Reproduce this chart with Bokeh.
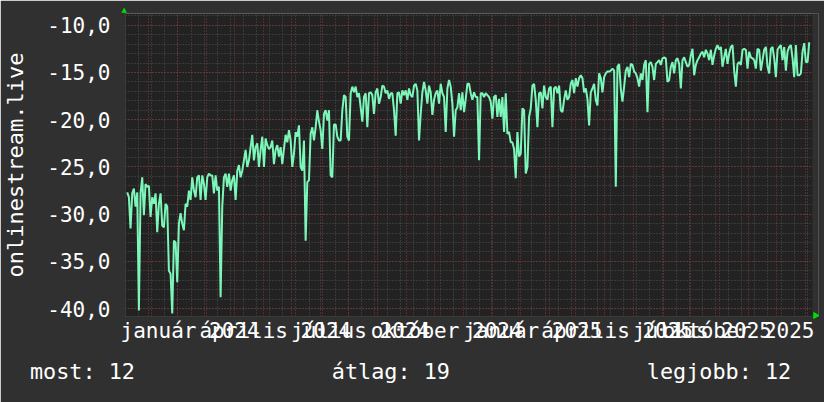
import numpy as np
import pandas as pd
from bokeh.plotting import figure
from bokeh.models import FixedTicker, Range1d, ColumnDataSource, Title, BoxAnnotation
from bokeh.embed import file_html
from bokeh.resources import INLINE

# ---- data ----
values_2023_2024 = [
    -27.7, -28.2, -31.5, -27.8, -27.3, -29.2, -27.7, -40.2, -27.8, -26.1,
    -30.1, -26.8, -27.1, -27.0, -30.3, -28.2, -28.9, -27.8, -31.9, -28.9,
    -27.8, -31.2, -31.4, -28.9, -29.2, -36.0, -36.3, -40.5, -32.8, -33.0,
    -37.2, -31.0, -29.9, -31.0, -31.7, -28.9, -29.2, -27.5, -28.5, -26.1,
    -27.5, -28.2, -26.1, -25.9, -28.5, -25.9, -26.8, -28.5, -26.1, -25.7,
    -25.9, -25.9, -27.8, -25.9, -27.5, -27.1, -38.8, -29.2, -26.1, -25.7,
    -27.1, -25.7, -27.5, -26.4, -25.9, -28.5, -25.4, -24.8, -26.1, -25.4,
    -24.3, -23.2, -25.0, -24.3, -22.9, -21.6, -24.3, -22.9, -22.5, -25.0,
    -23.2, -21.8, -25.0, -22.0, -22.7, -23.1, -22.9, -22.2, -24.7, -23.2,
    -22.7, -23.9, -22.9, -24.7, -23.1, -21.6, -22.4, -21.1, -22.2, -25.0,
    -23.6, -21.3, -21.8, -20.6, -25.0, -25.4, -22.2, -32.8, -26.6, -26.4,
    -21.5, -20.8, -22.2, -20.8, -19.0, -20.2, -21.1, -23.1, -19.4, -19.0,
    -20.1, -19.0, -25.9, -26.1, -20.5, -20.5, -21.8, -22.2, -22.2, -19.0,
    -17.4, -17.6, -21.8, -22.2, -17.2, -16.5,
]
values_2024_2025 = [
    -17.1, -16.5, -17.6, -17.2, -18.7, -20.2, -17.6, -17.2, -20.8, -17.2,
    -17.1, -17.4, -19.4, -17.1, -16.7, -18.3, -17.6, -16.4, -16.5, -17.2,
    -16.9, -17.8, -17.2, -17.2, -19.0, -21.7, -17.2, -17.1, -18.3, -16.9,
    -17.4, -16.9, -17.9, -16.7, -17.4, -17.6, -16.4, -16.2, -16.9, -22.2,
    -19.4, -17.1, -16.0, -16.9, -18.3, -16.4, -17.1, -19.5, -17.9, -17.2,
    -16.9, -18.3, -16.2, -17.2, -17.6, -21.3, -16.7, -15.8, -16.5, -18.3,
    -21.8, -19.0, -18.7, -17.2, -19.0, -17.1, -19.2, -17.8, -16.2, -16.2,
    -17.2, -17.9, -17.1, -17.6, -17.6, -24.3, -17.2, -17.2, -17.6, -17.2,
    -17.4, -17.6, -18.1, -19.9, -17.6, -17.4, -19.7, -17.8, -19.7, -17.6,
    -21.3, -17.2, -21.5, -21.3, -22.4, -22.4, -23.1, -26.2, -21.3, -23.9,
    -23.6, -18.8, -19.0, -25.7, -25.0, -19.7, -18.8, -16.4, -16.2, -17.9,
    -20.8, -17.2, -17.1, -18.8, -16.4, -17.6, -17.9, -16.7, -16.5, -20.8,
    -16.7, -16.5, -17.2, -16.4, -19.0, -19.2, -17.9, -16.9, -17.9, -17.6,
    -16.2, -15.8, -17.2, -15.6, -16.5, -15.6, -15.3, -15.6, -17.1, -16.7,
    -17.8, -20.6, -17.1, -16.7, -16.2, -17.9, -18.5, -15.1, -15.6, -17.1,
]
values_2025 = [
    -15.5, -15.1, -14.9, -14.9, -14.8, -14.6, -14.8, -27.1, -14.4, -14.1,
    -16.7, -18.1, -16.5, -14.8, -14.4, -15.5, -14.1, -14.2, -14.9, -15.1,
    -15.6, -16.5, -15.1, -15.8, -14.2, -13.7, -19.2, -14.1, -13.9, -14.4,
    -15.8, -14.1, -13.9, -13.7, -14.2, -13.5, -13.4, -13.5, -16.0, -15.8,
    -14.4, -13.9, -15.1, -13.7, -13.5, -14.1, -16.7, -13.7, -13.4, -13.9,
    -14.4, -14.2, -13.2, -12.5, -15.3, -14.2, -13.7, -13.4, -13.0, -12.8,
    -13.4, -12.6, -13.0, -13.7, -12.6, -14.2, -13.2, -12.5, -12.1, -12.6,
    -12.3, -14.4, -13.4, -12.5, -14.1, -13.0, -12.3, -12.1, -14.8, -16.5,
    -14.1, -13.9, -14.2, -12.6, -12.5, -12.6, -14.6, -12.8, -13.4, -13.5,
    -13.7, -14.6, -12.5, -12.6, -14.8, -13.7, -12.6, -12.3, -14.4, -15.1,
    -12.5, -12.3, -13.5, -15.5, -12.6, -12.3, -12.1, -13.7, -12.3, -14.8,
    -12.8, -12.3, -12.1, -13.5, -15.5, -12.1, -15.3, -15.3, -15.1, -12.8,
    -11.9, -13.9, -13.9, -11.8,
]
series_first = "2023-11-07 20:00"
series_last = "2025-11-05 02:00"

y_ticks = [-40, -35, -30, -25, -20, -15, -10]
y_tick_labels = ["-40,0", "-35,0", "-30,0", "-25,0", "-20,0", "-15,0", "-10,0"]
x_label_months = ["2024-01-01", "2024-04-01", "2024-07-01", "2024-10-01",
                  "2025-01-01", "2025-04-01", "2025-07-01", "2025-10-01"]
x_label_texts = ["január 2024", "április 2024", "július 2024", "október 2024",
                 "január 2025", "április 2025", "július 2025", "október 2025"]
legend_texts = ["most: 12", "átlag: 19", "legjobb: 12"]
y_title = "onlinestream.live"

# ---- build ----
values = values_2023_2024 + values_2024_2025 + values_2025
dates = pd.date_range(series_first, series_last, periods=len(values))
src = ColumnDataSource(dict(date=dates, value=values))


def ms(s):
    return pd.Timestamp(s).value / 1e6


X0, X1 = ms("2023-11-06 00:00"), ms("2025-11-08 14:00")   # plot area in time
Y0, Y1 = -40.83, -8.76
FL, FT, FW, FH = 123, 13, 687, 303     # plot area in pixels
EXTRA_R = 6                            # room for the x-axis arrow head
W, H = 824, 402
PER_PX = (X1 - X0) / FW

BG = "#303030"
PLOT_BG = "#222222"
MONO = "DejaVu Sans Mono"
AXIS_FS = 21.0
CHAR_W = AXIS_FS * 0.602


def px_to_ms(px):
    return X0 + (px - FL) * PER_PX


p = figure(x_axis_type="datetime", frame_width=FW + EXTRA_R, frame_height=FH,
           min_border_left=FL, min_border_right=W - FL - FW - EXTRA_R,
           min_border_top=FT, min_border_bottom=H - FT - FH,
           x_range=Range1d(X0, X1 + EXTRA_R * PER_PX), y_range=Range1d(Y0, Y1),
           output_backend="svg", toolbar_location=None,
           background_fill_color=PLOT_BG, border_fill_color=BG)
p.outline_line_color = None

month_starts = [ms(d) for d in pd.date_range("2023-12-01", "2025-11-01", freq="MS")]
biweekly = [ms(d) for d in pd.date_range("2023-11-06", "2025-11-08", freq="14D")]

p.xgrid.ticker = FixedTicker(ticks=month_starts, minor_ticks=biweekly)
p.ygrid.ticker = FixedTicker(ticks=y_ticks, minor_ticks=list(range(-40, -8)))
for g in (p.xgrid, p.ygrid):
    g.grid_line_color = "#8c3434"
    g.grid_line_dash = "1 2"
    g.grid_line_width = 1
    g.minor_grid_line_color = "#505050"
    g.minor_grid_line_dash = "1 2"

p.line(x="date", y="value", source=src, line_color="#7cf7b9", line_width=2)

# strip right of the plot area keeps the page colour
p.add_layout(BoxAnnotation(left=X1, fill_color=BG, fill_alpha=1.0,
                           line_color=None, level="annotation"))
arrow = p.scatter(x=[X1 + 3 * PER_PX], y=[Y1 - (315 - FT) / FH * (Y1 - Y0)],
                  marker="triangle", angle=-np.pi / 2, size=6,
                  fill_color="#00dd00", line_color="#00dd00")
arrow.level = "overlay"

# axes
p.yaxis.ticker = FixedTicker(ticks=y_ticks)
p.yaxis.major_label_overrides = {t: l for t, l in zip(y_ticks, y_tick_labels)}

label_centers = []
for m, txt in zip(x_label_months, x_label_texts):
    c = ms(m) + 13 * 86400000
    # keep the label inside the page
    limit = px_to_ms(W - 12 - len(txt) * CHAR_W / 2)
    label_centers.append(min(c, limit))
p.xaxis.ticker = FixedTicker(ticks=label_centers)
p.xaxis.major_label_overrides = {t: l for t, l in zip(label_centers, x_label_texts)}

for ax in (p.xaxis, p.yaxis):
    ax.major_tick_line_color = None
    ax.minor_tick_line_color = None
    ax.major_tick_out = 0
    ax.major_tick_in = 0
    ax.minor_tick_out = 0
    ax.axis_line_color = "#3a3a3a"
    ax.major_label_text_font = MONO
    ax.major_label_text_font_size = f"{AXIS_FS}px"
    ax.major_label_text_color = "#ffffff"
p.yaxis.major_label_standoff = 15
p.xaxis.major_label_standoff = 2

p.yaxis.axis_label = y_title
p.yaxis.axis_label_text_font = MONO
p.yaxis.axis_label_text_font_size = "22px"
p.yaxis.axis_label_text_font_style = "normal"
p.yaxis.axis_label_text_color = "#ffffff"
p.yaxis.axis_label_standoff = 16

# legend row: one monospace line, fields separated by no-break spaces
gap = "\u00a0" * 15
legend_line = gap.join(legend_texts)
p.add_layout(Title(text=legend_line, align="left", offset=-95.5, standoff=22,
                   text_font=MONO, text_font_size="21.8px",
                   text_font_style="normal", text_color="#ffffff"), "below")

# y-axis arrow head
p.add_layout(Title(text="▲", align="left", offset=-4, standoff=0,
                   text_font="DejaVu Sans", text_font_size="7px",
                   text_font_style="normal", text_color="#00dd00"), "above")

open("out.html", "w").write(file_html(p, INLINE))
